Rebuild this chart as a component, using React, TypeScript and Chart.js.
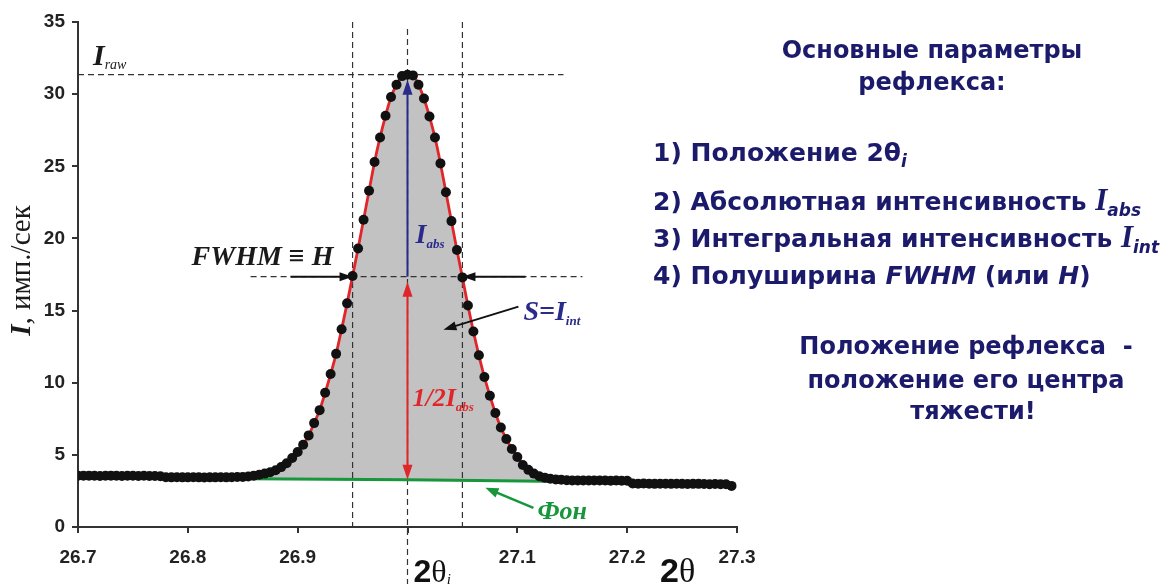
import React, { useEffect, useRef } from 'react';
import { Chart, registerables } from 'chart.js';

Chart.register(...registerables);

// ---- data ----
const scanStart = 26.7;
const scanStep = 0.005;
const intensity = [
  3.56, 3.55, 3.56, 3.55, 3.54, 3.55, 3.56, 3.55, 3.54, 3.55, 3.55, 3.54, 3.55, 3.54, 3.53, 3.52,
  3.45, 3.44, 3.45, 3.44, 3.44, 3.45, 3.44, 3.43, 3.44, 3.44, 3.45, 3.44, 3.45, 3.46,
  3.47, 3.5, 3.56, 3.62, 3.7, 3.8, 3.93, 4.15, 4.42, 4.78,
  5.2, 5.7, 6.35, 7.2, 8.1, 9.3, 10.6, 12.0, 13.7, 15.5,
  17.4, 19.3, 21.3, 23.3, 25.3, 27.0, 28.5, 29.8, 30.65, 31.25,
  31.35, 31.3, 30.65, 29.7, 28.45, 27.0, 25.2, 23.2, 21.2, 19.2,
  17.3, 15.35, 13.55, 11.9, 10.4, 9.1, 7.9, 6.9, 6.1, 5.4,
  4.85, 4.3, 3.96, 3.7, 3.52, 3.42, 3.35, 3.3, 3.27, 3.24,
  3.23, 3.23, 3.22, 3.22, 3.23, 3.22, 3.22, 3.21, 3.22, 3.21, 3.2,
  3.02, 3.0, 3.01, 3.0, 2.99, 3.0, 3.0, 2.99, 3.0, 2.99, 2.98, 2.99, 2.99, 2.98, 2.97, 2.98, 2.97, 2.96,
  2.85,
];
const fitStartIndex = 31;
const fitEndIndex = 87;
const bgTheta = [26.855, 27.0, 27.145];
const bgIntensity = [3.34, 3.27, 3.16];
const xTickValues = [26.7, 26.8, 26.9, 27.0, 27.1, 27.2, 27.3];
const xTickLabels = ['26.7', '26.8', '26.9', '', '27.1', '27.2', '27.3'];
const yMin = 0;
const yMax = 35;
const yStep = 5;

const peakTheta = 27.0;
const peakI = 31.35;
const halfI = 17.35;
const bgAtPeak = 3.27;
const fwhmLeft = 26.95;
const fwhmRight = 27.05;

const NAVY = '#1b1a6b';
const RED = '#e0262b';
const GREEN = '#17963c';
const SERIF = '"Liberation Serif", "DejaVu Serif", serif';
const SANS = '"DejaVu Sans", sans-serif';

type Part = { t: string; font: string; dy?: number };

function drawRich(ctx: CanvasRenderingContext2D, x: number, y: number, parts: Part[], color: string) {
  let cx = x;
  ctx.fillStyle = color;
  ctx.textAlign = 'left';
  ctx.textBaseline = 'alphabetic';
  for (const p of parts) {
    ctx.font = p.font;
    ctx.fillText(p.t, cx, y + (p.dy || 0));
    cx += ctx.measureText(p.t).width;
  }
}

function richWidth(ctx: CanvasRenderingContext2D, parts: Part[]) {
  let w = 0;
  for (const p of parts) {
    ctx.font = p.font;
    w += ctx.measureText(p.t).width;
  }
  return w;
}

function head(ctx: CanvasRenderingContext2D, x1: number, y1: number, x2: number, y2: number, len: number, w: number, color: string) {
  const a = Math.atan2(y2 - y1, x2 - x1);
  const bx = x2 - len * Math.cos(a);
  const by = y2 - len * Math.sin(a);
  ctx.beginPath();
  ctx.moveTo(x2, y2);
  ctx.lineTo(bx + (w / 2) * Math.sin(a), by - (w / 2) * Math.cos(a));
  ctx.lineTo(bx - (w / 2) * Math.sin(a), by + (w / 2) * Math.cos(a));
  ctx.closePath();
  ctx.fillStyle = color;
  ctx.fill();
}

function arrow(ctx: CanvasRenderingContext2D, x1: number, y1: number, x2: number, y2: number, color: string, lw: number, len = 12, w = 9, both = false) {
  const a = Math.atan2(y2 - y1, x2 - x1);
  ctx.setLineDash([]);
  ctx.strokeStyle = color;
  ctx.lineWidth = lw;
  ctx.beginPath();
  const s = both ? len * 0.6 : 0;
  ctx.moveTo(x1 + s * Math.cos(a), y1 + s * Math.sin(a));
  ctx.lineTo(x2 - len * 0.6 * Math.cos(a), y2 - len * 0.6 * Math.sin(a));
  ctx.stroke();
  head(ctx, x1, y1, x2, y2, len, w, color);
  if (both) head(ctx, x2, y2, x1, y1, len, w, color);
}

function dashed(ctx: CanvasRenderingContext2D, x1: number, y1: number, x2: number, y2: number) {
  ctx.setLineDash([6, 4]);
  ctx.strokeStyle = '#333';
  ctx.lineWidth = 1.2;
  ctx.beginPath();
  ctx.moveTo(x1, y1);
  ctx.lineTo(x2, y2);
  ctx.stroke();
}

const annotations = {
  id: 'annotations',
  beforeDatasetsDraw(chart: any) {
    const { ctx, scales } = chart;
    const x = scales.x;
    const y = scales.y;
    const pxPeak = x.getPixelForValue(peakTheta);
    const pxL = x.getPixelForValue(fwhmLeft);
    const pxR = x.getPixelForValue(fwhmRight);
    const pyPeak = y.getPixelForValue(peakI);
    const pyHalf = y.getPixelForValue(halfI);
    const pyTop = y.getPixelForValue(yMax);
    const pyZero = y.getPixelForValue(yMin);
    ctx.save();
    dashed(ctx, x.left, pyPeak, x.getPixelForValue(27.142), pyPeak);
    dashed(ctx, pxL, pyTop, pxL, pyZero);
    dashed(ctx, pxR, pyTop, pxR, pyZero);
    dashed(ctx, pxPeak, pyTop + 7, pxPeak, chart.height);
    dashed(ctx, pxL - 102, pyHalf, pxR + 120, pyHalf);
    ctx.restore();
  },
  afterDatasetsDraw(chart: any) {
    const { ctx, scales } = chart;
    const x = scales.x;
    const y = scales.y;
    const pxPeak = x.getPixelForValue(peakTheta);
    const pxL = x.getPixelForValue(fwhmLeft);
    const pxR = x.getPixelForValue(fwhmRight);
    const pyPeak = y.getPixelForValue(peakI);
    const pyHalf = y.getPixelForValue(halfI);
    const pyBg = y.getPixelForValue(bgAtPeak);
    ctx.save();
    // arrows
    arrow(ctx, pxPeak, pyHalf, pxPeak, pyPeak + 5, '#2a2a8a', 2, 15, 10);
    arrow(ctx, pxPeak, pyHalf + 5, pxPeak, pyBg, RED, 2, 15, 10, true);
    arrow(ctx, pxL - 62, pyHalf, pxL, pyHalf, '#111', 2, 13, 9);
    arrow(ctx, pxR + 63, pyHalf, pxR, pyHalf, '#111', 2, 13, 9);
    arrow(ctx, pxR + 56, pyHalf + 30, pxR - 19, pyHalf + 53, '#111', 2, 13, 9);
    arrow(ctx, pxR + 71, pyBg + 28, pxR + 23, pyBg + 8, GREEN, 2.5, 13, 10);

    // texts
    drawRich(ctx, x.left + 15, pyPeak - 10, [
      { t: 'I', font: `bold italic 30px ${SERIF}` },
      { t: 'raw', font: `italic 14px ${SERIF}`, dy: 4 },
    ], '#1a1a1a');
    const fw: Part[] = [{ t: 'FWHM ≡ H', font: `bold italic 28px ${SERIF}` }];
    drawRich(ctx, pxL - 19 - richWidth(ctx, fw), pyHalf - 12, fw, '#1a1a1a');
    drawRich(ctx, pxPeak + 8, pyHalf - 34, [
      { t: 'I', font: `bold italic 28px ${SERIF}` },
      { t: 'abs', font: `bold italic 13px ${SERIF}`, dy: 5 },
    ], '#2a2a8a');
    drawRich(ctx, pxR + 61, pyHalf + 43, [
      { t: 'S=I', font: `bold italic 28px ${SERIF}` },
      { t: 'int', font: `bold italic 13px ${SERIF}`, dy: 5 },
    ], '#2a2a8a');
    drawRich(ctx, pxPeak + 5, pyHalf + 129, [
      { t: '1/2I', font: `bold italic 26px ${SERIF}` },
      { t: 'abs', font: `bold italic 13px ${SERIF}`, dy: 5 },
    ], RED);
    drawRich(ctx, pxR + 75, pyBg + 39, [
      { t: 'Фон', font: `bold italic 26px ${SERIF}` },
    ], GREEN);
    drawRich(ctx, pxPeak + 6, chart.height - 2, [
      { t: '2', font: `bold 32px "Liberation Sans", sans-serif` },
      { t: 'θ', font: `32px ${SERIF}` },
      { t: 'i', font: `italic 15px ${SERIF}`, dy: 2 },
    ], '#111');
    drawRich(ctx, x.getPixelForValue(27.23), chart.height - 2, [
      { t: '2', font: `bold 34px "Liberation Sans", sans-serif` },
      { t: 'θ', font: `34px ${SERIF}` },
    ], '#111');

    // y axis title
    const yt: Part[] = [
      { t: 'I', font: `bold italic 29px ${SERIF}` },
      { t: ', имп./сек', font: `29px ${SERIF}` },
    ];
    ctx.translate(30, (y.top + y.bottom) / 2 - 4);
    ctx.rotate(-Math.PI / 2);
    drawRich(ctx, -richWidth(ctx, yt) / 2, 0, yt, '#1a1a1a');
    ctx.restore();
  },
};

const line = (top: number, left: number, children: React.ReactNode, extra: React.CSSProperties = {}) => (
  <div
    style={{
      position: 'absolute',
      top,
      left,
      whiteSpace: 'pre',
      font: `bold 24px ${SANS}`,
      lineHeight: '28px',
      color: NAVY,
      ...extra,
    }}
  >
    {children}
  </div>
);

const sub = (t: string) => (
  <span style={{ fontSize: 17, fontStyle: 'italic', position: 'relative', top: 6 }}>{t}</span>
);
const bigI = <span style={{ fontFamily: SERIF, fontStyle: 'italic', fontWeight: 'bold', fontSize: 31 }}>I</span>;
const listStyle: React.CSSProperties = { fontSize: 25 };

export default function App() {
  const ref = useRef<HTMLCanvasElement>(null);
  useEffect(() => {
    const canvas = ref.current!;
    const points = intensity.map((v, i) => ({ x: +(scanStart + scanStep * i).toFixed(3), y: v }));
    const fit = points.slice(fitStartIndex, fitEndIndex + 1);
    const bg = bgTheta.map((t, i) => ({ x: t, y: bgIntensity[i] }));
    const chart = new Chart(canvas, {
      type: 'line',
      data: {
        datasets: [
          {
            label: 'Эксперимент',
            data: points,
            showLine: false,
            pointRadius: 5,
            pointBackgroundColor: '#111',
            pointBorderColor: '#111',
            pointBorderWidth: 0,
            order: 0,
          },
          {
            label: 'Профиль',
            data: fit,
            borderColor: RED,
            borderWidth: 2.8,
            pointRadius: 0,
            backgroundColor: '#c2c2c2',
            fill: { target: 2 },
            cubicInterpolationMode: 'monotone',
            order: 1,
          },
          {
            label: 'Фон',
            data: bg,
            borderColor: GREEN,
            borderWidth: 3,
            pointRadius: 0,
            fill: false,
            order: 2,
          },
        ],
      },
      options: {
        responsive: false,
        animation: false,
        events: [],
        layout: { padding: { left: 0, right: 436, top: 22, bottom: 0 } },
        plugins: {
          legend: { display: false },
          tooltip: { enabled: false },
          filler: { drawTime: 'beforeDatasetsDraw' },
        },
        scales: {
          x: {
            type: 'linear',
            min: 26.7,
            max: 27.3,
            afterBuildTicks: (s: any) => {
              s.ticks = xTickValues.map((v) => ({ value: v }));
            },
            afterFit: (s: any) => {
              s.height = 57;
            },
            ticks: {
              autoSkip: false,
              maxRotation: 0,
              padding: 13,
              color: '#222',
              font: { family: '"Liberation Sans", Arial, sans-serif', weight: 'bold', size: 19 },
              callback: (_v: any, i: number) => xTickLabels[i],
            },
            grid: { drawOnChartArea: false, drawTicks: true, tickLength: 6, color: '#333', lineWidth: 2 },
            border: { display: true, color: '#333', width: 2 },
          },
          y: {
            min: yMin,
            max: yMax,
            ticks: {
              stepSize: yStep,
              padding: 7,
              color: '#222',
              font: { family: '"Liberation Sans", Arial, sans-serif', weight: 'bold', size: 19 },
            },
            afterFit: (s: any) => {
              s.width = 78;
            },
            grid: { drawOnChartArea: false, drawTicks: true, tickLength: 6, color: '#333', lineWidth: 2 },
            border: { display: true, color: '#333', width: 2 },
          },
        },
      },
      plugins: [annotations],
    } as any);
    return () => chart.destroy();
  }, []);

  return (
    <div style={{ position: 'fixed', left: 0, top: 0, width: 1173, height: 584, background: '#fff', overflow: 'hidden' }}>
      <canvas ref={ref} width={1173} height={584} style={{ position: 'absolute', left: 0, top: 0, width: 1173, height: 584 }} />
      {line(36, 732, 'Основные параметры', { width: 400, textAlign: 'center' })}
      {line(68, 732, 'рефлекса:', { width: 400, textAlign: 'center' })}
      {line(139, 653, <>1) Положение 2θ{sub('i')}</>, listStyle)}
      {line(186, 653, <>2) Абсолютная интенсивность {bigI}{sub('abs')}</>, listStyle)}
      {line(223, 653, <>3) Интегральная интенсивность {bigI}{sub('int')}</>, listStyle)}
      {line(262, 653, <>4) Полуширина <i>FWHM</i> (или <i>H</i>)</>, listStyle)}
      {line(332, 766, 'Положение рефлекса  -', { width: 400, textAlign: 'center' })}
      {line(366, 766, 'положение его центра', { width: 400, textAlign: 'center' })}
      {line(397, 773, 'тяжести!', { width: 400, textAlign: 'center' })}
    </div>
  );
}
